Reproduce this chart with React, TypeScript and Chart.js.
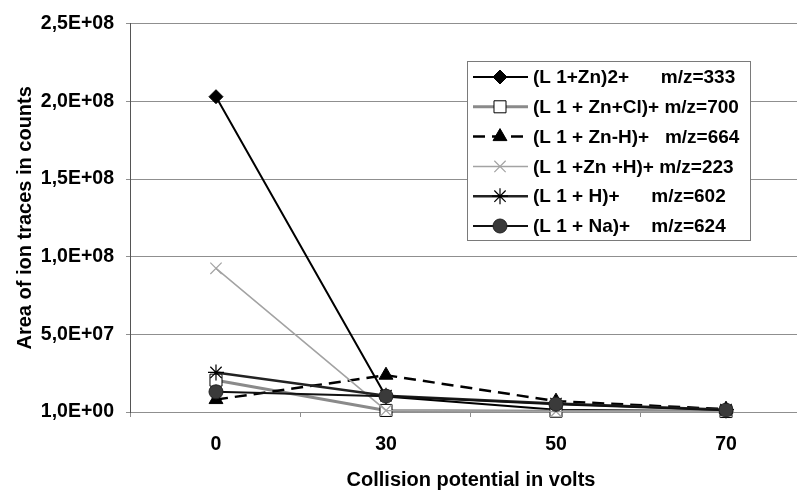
import React, { useEffect, useRef } from 'react';
import { Chart, registerables } from 'chart.js';
import { drawPoint } from 'chart.js/helpers';

Chart.register(...registerables);

const categories = ['0', '30', '50', '70'];
const yTickLabels = ['1,0E+00', '5,0E+07', '1,0E+08', '1,5E+08', '2,0E+08', '2,5E+08'];
const seriesLabels = [
  '(L 1+Zn)2+      m/z=333',
  '(L 1 + Zn+Cl)+ m/z=700',
  '(L 1 + Zn-H)+   m/z=664',
  '(L 1 +Zn +H)+ m/z=223',
  '(L 1 + H)+      m/z=602',
  '(L 1 + Na)+    m/z=624',
];
const zn2 = [2.03e8, 1.0e7, 1.5e6, 5e5];
const znCl = [2.05e7, 1.0e6, 5e5, 3e5];
const znMinusH = [8e6, 2.37e7, 7e6, 1.8e6];
const znPlusH = [9.25e7, 1.0e6, 4e5, 3e5];
const plusH = [2.55e7, 1.05e7, 5.5e6, 1.5e6];
const plusNa = [1.3e7, 1.02e7, 5e6, 1.2e6];

const FONT = "'Liberation Sans', Arial, sans-serif";

const legendPlugin = {
  id: 'boxLegend',
  afterDraw(chart: any) {
    const ctx = chart.ctx as CanvasRenderingContext2D;
    const x0 = 467, y0 = 61, w = 283, h = 179;
    ctx.save();
    ctx.fillStyle = '#ffffff';
    ctx.fillRect(x0, y0, w, h);
    ctx.strokeStyle = '#7a7a7a';
    ctx.lineWidth = 1;
    ctx.strokeRect(x0 + 0.5, y0 + 0.5, w, h);
    chart.data.datasets.forEach((ds: any, i: number) => {
      const y = y0 + 16 + i * 29.8;
      ctx.save();
      ctx.strokeStyle = ds.borderColor;
      ctx.lineWidth = ds.borderWidth;
      ctx.setLineDash(ds.borderDash || []);
      ctx.beginPath();
      ctx.moveTo(473, y);
      ctx.lineTo(528, y);
      ctx.stroke();
      ctx.setLineDash([]);
      ctx.fillStyle = ds.pointBackgroundColor;
      ctx.strokeStyle = ds.pointBorderColor;
      ctx.lineWidth = ds.pointBorderWidth;
      drawPoint(ctx, { pointStyle: ds.pointStyle, rotation: 0, radius: ds.pointRadius, borderWidth: ds.pointBorderWidth } as any, 500, y);
      ctx.restore();
      ctx.fillStyle = '#000000';
      ctx.font = `bold 19px ${FONT}`;
      ctx.textBaseline = 'middle';
      ctx.textAlign = 'left';
      ctx.fillText(ds.label, 533, y + 1);
    });
    ctx.restore();
  },
};

export default function App() {
  const ref = useRef<HTMLCanvasElement | null>(null);

  useEffect(() => {
    if (!ref.current) return;
    const mk = (i: number, data: number[], o: any) => ({
      label: seriesLabels[i],
      data,
      order: 10 - i,
      clip: false,
      ...o,
    });
    const tickFont = { size: 19.5, weight: 'bold', family: FONT };
    const titleFont = { size: 20, weight: 'bold', family: FONT, lineHeight: 1 };
    const chart = new Chart(ref.current, {
      type: 'line',
      data: {
        labels: categories,
        datasets: [
          mk(0, zn2, { borderColor: '#000000', borderWidth: 2, pointStyle: 'rectRot', pointRadius: 7, pointBackgroundColor: '#000000', pointBorderColor: '#000000', pointBorderWidth: 1 }),
          mk(1, znCl, { borderColor: '#8a8a8a', borderWidth: 3, pointStyle: 'rect', pointRadius: 8.5, pointBackgroundColor: '#ffffff', pointBorderColor: '#000000', pointBorderWidth: 1 }),
          mk(2, znMinusH, { borderColor: '#000000', borderWidth: 2.5, borderDash: [12, 7], pointStyle: 'triangle', pointRadius: 8, pointBackgroundColor: '#000000', pointBorderColor: '#000000', pointBorderWidth: 1 }),
          mk(3, znPlusH, { borderColor: '#a3a3a3', borderWidth: 1.5, pointStyle: 'crossRot', pointRadius: 8, pointBackgroundColor: '#a3a3a3', pointBorderColor: '#a3a3a3', pointBorderWidth: 1.2 }),
          mk(4, plusH, { borderColor: '#222222', borderWidth: 2.5, pointStyle: 'star', pointRadius: 8, pointBackgroundColor: '#000000', pointBorderColor: '#000000', pointBorderWidth: 1.2 }),
          mk(5, plusNa, { borderColor: '#111111', borderWidth: 2, pointStyle: 'circle', pointRadius: 7, pointBackgroundColor: '#3a3a3a', pointBorderColor: '#222222', pointBorderWidth: 1 }),
        ],
      },
      options: {
        responsive: false,
        animation: false,
        layout: { padding: { top: 9, right: 19, bottom: 0, left: 0 } },
        plugins: { legend: { display: false }, tooltip: { enabled: false } },
        elements: { line: { tension: 0 } },
        scales: {
          x: {
            type: 'category',
            offset: true,
            grid: { offset: true, drawOnChartArea: false, drawTicks: true, tickLength: 5, color: '#8f8f8f' },
            border: { display: true, color: '#8f8f8f' },
            ticks: { font: tickFont, color: '#000000', padding: 16 },
            title: { display: true, text: 'Collision potential in volts', font: titleFont, color: '#000000', padding: { top: -2.4, bottom: 0 } },
          },
          y: {
            min: 0,
            max: 2.5e8,
            ticks: { stepSize: 5e7, callback: (_v: any, i: number) => yTickLabels[i], font: tickFont, color: '#000000', padding: 12 },
            grid: { color: '#8f8f8f', lineWidth: 1, tickLength: 5, drawTicks: true },
            border: { display: true, color: '#555555', width: 1 },
            title: { display: true, text: 'Area of ion traces in counts', font: titleFont, color: '#000000', padding: { top: 15, bottom: -6.2 } },
          },
        },
      },
      plugins: [legendPlugin],
    } as any);
    return () => chart.destroy();
  }, []);

  return (
    <div style={{ position: 'fixed', left: 0, top: 0, width: 797, height: 490, overflow: 'hidden', background: '#fff' }}>
      <canvas ref={ref} width={830} height={490} style={{ width: 830, height: 490, display: 'block' }} />
    </div>
  );
}
